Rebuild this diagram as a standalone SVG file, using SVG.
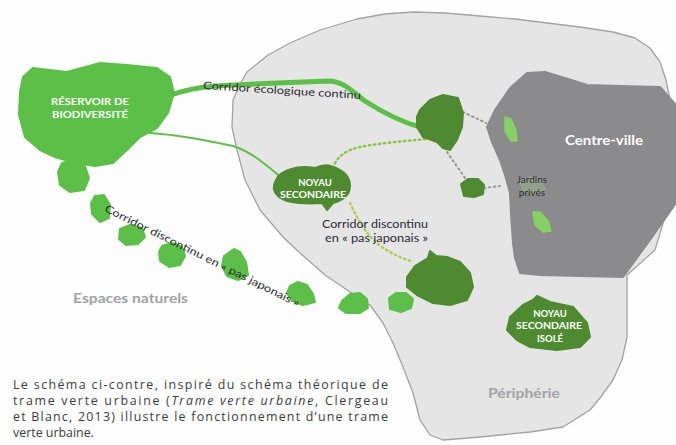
<svg xmlns="http://www.w3.org/2000/svg" width="676" height="445" viewBox="0 0 676 445">
  <style>
    .peri { fill: #e5e5e6; stroke: #a3a3a5; stroke-width: 1.3; stroke-linejoin: round; }
    .city { fill: #8b8b8e; stroke: #8b8b8e; stroke-width: 2; stroke-linejoin: round; }
    .lg { fill: #5cbf47; stroke: #5cbf47; stroke-width: 2; stroke-linejoin: round; }
    .dg { fill: #4e8a2f; stroke: #4e8a2f; stroke-width: 2; stroke-linejoin: round; }
    .garden { fill: #86d064; stroke: #86d064; stroke-width: 1.5; stroke-linejoin: round; }
    .wlabel { font-family: Lato, "Open Sans", sans-serif; font-weight: 700; fill: #ffffff; text-anchor: middle; }
    .dlabel { font-family: Lato, "Open Sans", sans-serif; fill: #2b2b33; }
    .glabel { font-family: Lato, "Open Sans", sans-serif; font-weight: 700; fill: #a2a2a4; }
    .cap { font-family: "Open Sans", Lato, sans-serif; font-size: 12.4px; fill: #3c3c40; }
    .solid { fill: none; stroke: #5cbf47; stroke-linecap: round; stroke-linejoin: round; }
    .dotg { fill: none; stroke: #8cc43e; stroke-width: 2.4; stroke-dasharray: 1.5 3.5; stroke-linecap: round; }
    .doty { fill: none; stroke: #b1cc4a; stroke-width: 2.4; stroke-dasharray: 1.5 3.5; stroke-linecap: round; }
    .dotk { fill: none; stroke: #8f9a88; stroke-width: 2; stroke-dasharray: 1.5 3.5; stroke-linecap: round; }
  </style>

  <rect width="676" height="445" fill="#fdfdfd"/>

  <!-- outer urban area -->
  <g id="peripherie">
    <path class="peri" d="M247,72 L268,55 L290,43 L320,30 L357,19 L385,14 L413,12 L445,13 L480,16 L515,19 L547,23 L580,27 L613,32 L635,38 L650,48 L660,62 L666,80 L670,100 L672,140 L670,200 L655,250 L627,275 L627,337 L622,360 L613,380 L600,398 L590,410 L563,427 L530,432 L480,437 L443,440 L430,435 L420,420 L413,393 L403,367 L393,343 L383,323 L370,305 L350,292 L325,275 L300,253 L283,237 L260,210 L245,180 L237,150 L232,127 L233,100 L240,84 Z"/>
    <text class="glabel" x="488" y="398" font-size="12.5" textLength="72" lengthAdjust="spacingAndGlyphs">Périphérie</text>
  </g>

  <!-- city centre with private gardens -->
  <g id="centre-ville">
    <path class="city" d="M527,73 L545,72 L565,78 L587,85 L620,86 L660,87 L676,105 L676,203 L650,240 L623,277 L580,276 L540,275 L520,273 L515,258 L513,243 L511,215 L510,193 L505,175 L500,160 L492,142 L487,127 L495,110 L510,88 Z"/>
    <text class="wlabel" x="604" y="145" font-size="13.5" textLength="78" lengthAdjust="spacingAndGlyphs">Centre-ville</text>
  </g>

  <g id="jardins-prives">
    <path class="garden" d="M505,117 L511,119 L516,130 L517,141 L511,141 L505,131 Z"/>
    <path fill="#98aa8e" opacity="0.7" d="M519,181 L530,176 L543,180 L546,190 L536,195 L523,192 Z"/>
    <path class="garden" d="M533,212 L540,212 L548,221 L551,231 L543,232 L535,225 Z"/>
    <text class="dlabel" x="532" y="183" font-size="10" text-anchor="middle">Jardins</text>
    <text class="dlabel" x="532" y="196" font-size="10" text-anchor="middle">privés</text>
  </g>

  <!-- connectors -->
  <g id="connecteurs">
    <path class="solid" stroke-width="5" d="M168,96 C185,90 200,87 215,86 C250,84 300,82 330,81 C345,82 352,92 365,101 C382,112 398,121 420,127"/>
    <path class="solid" stroke-width="2" d="M150,133 C180,135 205,140 233,146 C252,152 266,165 282,178"/>
    <path class="dotg" d="M333,168 C336,158 345,150 360,147 C380,143 405,141 427,139"/>
    <path class="doty" d="M350,203 C358,220 368,238 382,247 C392,254 402,258 413,262"/>
    <path class="dotk" d="M463,112 L486,123"/>
    <path class="dotk" d="M447,152 L465,178"/>
    <path class="dotk" d="M484,188 L500,186"/>
  </g>

  <!-- biodiversity reservoir -->
  <g id="reservoir">
    <path class="lg" d="M23,77 L33,68 L67,72 L100,63 L127,65 L157,68 L170,77 L174,93 L168,113 L157,128 L140,137 L127,150 L113,163 L95,166 L75,163 L55,157 L40,150 L25,137 L19,115 L20,92 Z"/>
    <text class="wlabel" x="90" y="105" font-size="9.5" textLength="78" lengthAdjust="spacingAndGlyphs">RÉSERVOIR DE</text>
    <text class="wlabel" x="90" y="118" font-size="9.5" textLength="76" lengthAdjust="spacingAndGlyphs">BIODIVERSITÉ</text>
  </g>

  <!-- stepping stones of the natural areas -->
  <g id="pas-japonais">
    <path class="lg" d="M62,163 L75,160 L85,166 L89,178 L84,190 L70,192 L60,185 L58,172 Z"/>
    <path class="lg" d="M95,196 L104,195 L110,205 L109,218 L100,222 L92,214 L91,203 Z"/>
    <path class="lg" d="M120,229 L130,225 L142,228 L145,237 L138,244 L126,245 L119,239 Z"/>
    <path class="lg" d="M162,246 L172,243 L182,247 L185,256 L180,265 L169,267 L160,261 L159,252 Z"/>
    <path class="lg" d="M224,256 L234,249 L240,252 L246,262 L248,275 L238,280 L227,276 L222,266 Z"/>
    <path class="lg" d="M290,286 L298,282 L307,285 L313,294 L315,302 L303,305 L292,301 L287,293 Z"/>
    <path class="lg" d="M342,301 L350,294 L360,293 L367,299 L368,308 L360,313 L346,313 L339,308 Z"/>
    <path class="lg" d="M389,298 L396,293 L406,293 L413,299 L411,308 L401,312 L390,309 Z"/>
  </g>

  <!-- urban green patches -->
  <g id="noyau-nord">
    <path class="dg" d="M420,110 L430,100 L443,95 L458,98 L463,113 L462,127 L457,140 L450,150 L443,148 L437,142 L423,137 L417,127 L417,117 Z"/>
  </g>
  <g id="noyau-relais">
    <path class="dg" d="M461,184 L468,179 L478,179 L484,185 L483,194 L474,197 L464,196 Z"/>
  </g>
  <g id="noyau-sud">
    <path class="dg" d="M407,277 L415,266 L428,258 L430,251 L436,256 L447,257 L460,262 L470,273 L473,287 L467,300 L450,305 L433,303 L417,295 L407,287 Z"/>
  </g>

  <g id="noyau-secondaire">
    <path class="dg" d="M276,180 C280,170 298,165 315,168 C322,165 328,164 333,167 C342,170 350,176 350,186 C350,196 342,200 333,203 L327,210 L322,203 C305,204 285,203 278,196 C273,191 273,185 276,180 Z"/>
    <text class="wlabel" x="315" y="186" font-size="9.5">NOYAU</text>
    <text class="wlabel" x="313" y="198" font-size="9.5" textLength="66" lengthAdjust="spacingAndGlyphs">SECONDAIRE</text>
  </g>

  <g id="noyau-isole">
    <path class="dg" d="M533,300 L537,296 L550,302 L573,307 L587,323 L590,337 L580,347 L557,350 L530,347 L517,340 L507,330 L510,317 L523,305 Z"/>
    <text class="wlabel" x="550" y="317" font-size="9.5">NOYAU</text>
    <text class="wlabel" x="549" y="329" font-size="9.5" textLength="66" lengthAdjust="spacingAndGlyphs">SECONDAIRE</text>
    <text class="wlabel" x="550" y="342" font-size="9.5">ISOLÉ</text>
  </g>

  <!-- corridor labels -->
  <g id="libelles">
    <text class="dlabel" font-size="10.5" transform="translate(203,89) rotate(3.6)" textLength="158" lengthAdjust="spacingAndGlyphs">Corridor écologique continu</text>
    <text class="dlabel" font-size="10.5" transform="translate(104,211) rotate(26.4)" textLength="216" lengthAdjust="spacingAndGlyphs">Corridor discontinu en « pas japonais »</text>
    <text class="dlabel" font-size="10.5" x="322" y="228" textLength="106" lengthAdjust="spacingAndGlyphs">Corridor discontinu</text>
    <text class="dlabel" font-size="10.5" x="325" y="242" textLength="103" lengthAdjust="spacingAndGlyphs">en « pas japonais »</text>
    <text class="glabel" x="73" y="303" font-size="12.5" textLength="115" lengthAdjust="spacingAndGlyphs">Espaces naturels</text>
  </g>

  <!-- caption -->
  <g id="legende">
    <text class="cap" x="13" y="389" textLength="375" lengthAdjust="spacing">Le schéma ci-contre, inspiré du schéma théorique de</text>
    <text class="cap" x="13" y="405" textLength="375" lengthAdjust="spacing">trame verte urbaine (<tspan font-style="italic">Trame verte urbaine</tspan>, Clergeau</text>
    <text class="cap" x="13" y="421" textLength="375" lengthAdjust="spacing">et Blanc, 2013) illustre le fonctionnement d’une trame</text>
    <text class="cap" x="13" y="437">verte urbaine.</text>
  </g>
</svg>
